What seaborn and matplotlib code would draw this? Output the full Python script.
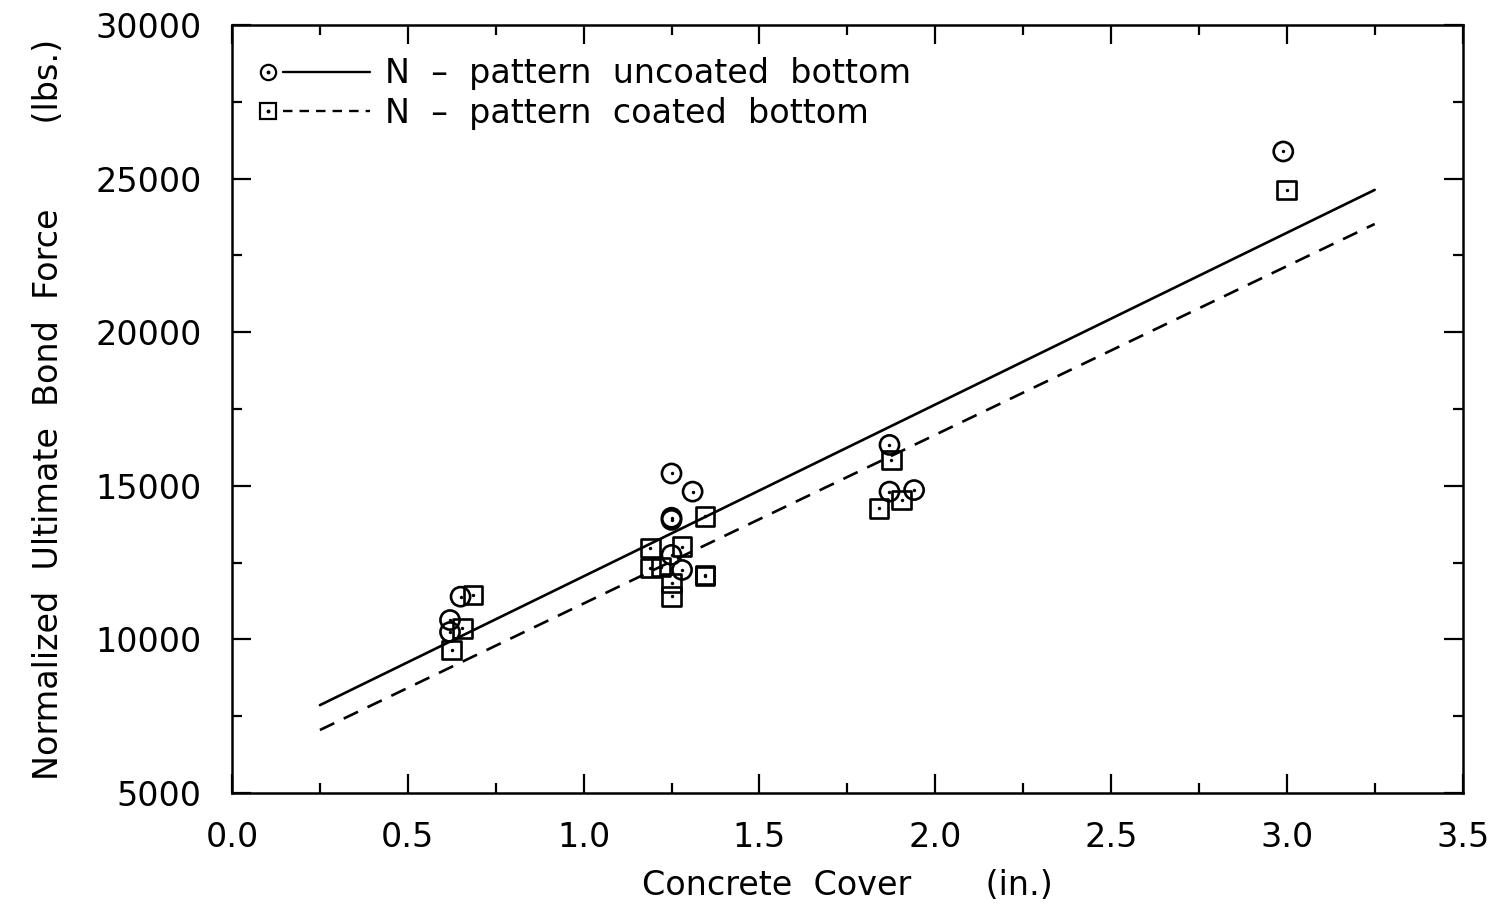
import numpy as np
import pandas as pd
import matplotlib
matplotlib.use("Agg")
import matplotlib.pyplot as plt
from matplotlib.lines import Line2D
from matplotlib.legend_handler import HandlerBase
from matplotlib.ticker import MultipleLocator
import seaborn as sns

# ---- data ----
uncoated_cover = [0.62, 0.62, 0.65, 1.25, 1.31, 1.25, 1.25, 1.25, 1.28, 1.87, 1.87, 1.94, 2.99]
uncoated_force = [10630, 10240, 11390, 15400, 14810, 13890, 13960, 12750, 12260, 16330, 14810, 14860, 25880]

coated_cover = [0.685, 0.655, 0.625, 1.345, 1.19, 1.19, 1.28, 1.22, 1.25, 1.25, 1.345, 1.345,
                1.875, 1.905, 1.84, 3.0]
coated_force = [11450, 10360, 9650, 14000, 12970, 12320, 13020, 12360, 11830, 11400, 12100, 12060,
                15840, 14540, 14270, 24630]

fit_x = [0.25, 3.25]
uncoated_fit = [7860, 24630]
coated_fit = [7050, 23520]

label_uncoated = "N  \u2013  pattern  uncoated  bottom"
label_coated = "N  \u2013  pattern  coated  bottom"

sns.set_theme(style="ticks")
plt.rcParams["font.family"] = ["DejaVu Sans"]
plt.rcParams["text.color"] = "black"
plt.rcParams["axes.labelcolor"] = "black"

FS = 24

fig = plt.figure(figsize=(14.97, 9.09), dpi=100)
ax = fig.add_axes([0.155, 0.1276, 0.822, 0.845])

df_u = pd.DataFrame({"x": uncoated_cover, "y": uncoated_force})
df_c = pd.DataFrame({"x": coated_cover, "y": coated_force})
df_fu = pd.DataFrame({"x": fit_x, "y": uncoated_fit})
df_fc = pd.DataFrame({"x": fit_x, "y": coated_fit})

sns.lineplot(data=df_fu, x="x", y="y", ax=ax, color="black", lw=1.9, linestyle="-")
sns.lineplot(data=df_fc, x="x", y="y", ax=ax, color="black", lw=1.9, dashes=False)
ax.lines[-1].set_linestyle((0, (6, 4)))

sns.scatterplot(data=df_u, x="x", y="y", ax=ax, marker="o", s=190,
                facecolor="none", edgecolor="black", linewidth=1.9, zorder=4)
sns.scatterplot(data=df_c, x="x", y="y", ax=ax, marker="s", s=180,
                facecolor="none", edgecolor="black", linewidth=1.9, zorder=4)
sns.scatterplot(data=df_u, x="x", y="y", ax=ax, marker="o", s=6,
                color="black", linewidth=0, zorder=5)
sns.scatterplot(data=df_c, x="x", y="y", ax=ax, marker="o", s=6,
                color="black", linewidth=0, zorder=5)

ax.set_xlim(0, 3.5)
ax.set_ylim(5000, 30000)
ax.xaxis.set_major_locator(MultipleLocator(0.5))
ax.xaxis.set_minor_locator(MultipleLocator(0.25))
ax.yaxis.set_major_locator(MultipleLocator(5000))
ax.yaxis.set_minor_locator(MultipleLocator(2500))
ax.set_xticklabels([f"{v:.1f}" for v in ax.get_xticks()])
ax.tick_params(which="both", direction="in", top=True, right=True, width=1.6,
               colors="black", labelcolor="black")
ax.tick_params(which="major", length=14, labelsize=FS)
ax.tick_params(axis="x", which="major", pad=20)
ax.tick_params(axis="y", which="major", pad=22)
ax.tick_params(which="minor", length=7)
for sp in ax.spines.values():
    sp.set_linewidth(1.8)
    sp.set_color("black")

ax.set_xlabel("Concrete  Cover       (in.)", fontsize=FS, labelpad=11)
ax.set_ylabel("Normalized  Ultimate  Bond  Force        (lbs.)", fontsize=FS, labelpad=22)


class MarkerThenLine(HandlerBase):
    def __init__(self, marker, ls):
        super().__init__()
        self.marker = marker
        self.ls = ls

    def create_artists(self, legend, orig_handle, xdescent, ydescent, width, height, fontsize, trans):
        yc = height / 2 - ydescent
        m = Line2D([width * 0.07], [yc], marker=self.marker, markersize=11, mfc="none",
                   mec="black", mew=1.6, linestyle="none", transform=trans)
        d = Line2D([width * 0.07], [yc], marker="o", markersize=1.8, color="black",
                   linestyle="none", transform=trans)
        ln = Line2D([width * 0.21, width], [yc, yc], color="black", lw=1.7,
                    linestyle=self.ls, transform=trans)
        return [m, d, ln]


h1 = Line2D([], [], color="black")
h2 = Line2D([], [], color="black")
ax.legend([h1, h2], [label_uncoated, label_coated],
          handler_map={h1: MarkerThenLine("o", "-"), h2: MarkerThenLine("s", (0, (4, 3)))},
          loc="upper left", frameon=False, fontsize=FS, handlelength=3.3, handletextpad=0.45,
          labelspacing=0.2, borderpad=0, borderaxespad=0, bbox_to_anchor=(0.0227, 0.958))

fig.savefig("out.png", dpi=100)
